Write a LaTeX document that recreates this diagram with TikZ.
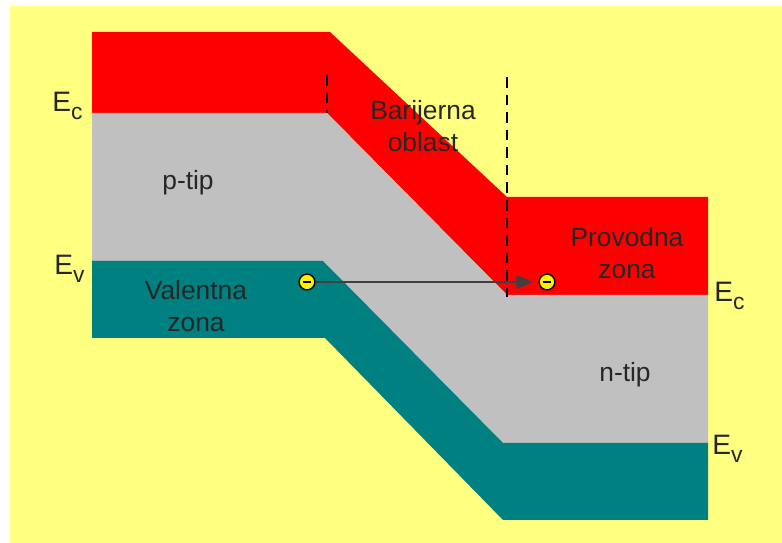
\documentclass[tikz,border=0pt]{standalone}
\usepackage{fontspec}
\setmainfont{Liberation Sans}
\usetikzlibrary{arrows}
\definecolor{bgyellow}{RGB}{255,255,128}
\definecolor{bandgray}{RGB}{192,192,192}
\definecolor{bandteal}{RGB}{0,128,128}
\newcommand{\lvl}[1]{E\raisebox{-0.5ex}{\fontsize{13}{13}\selectfont #1}}
\begin{document}
\begin{tikzpicture}[x=0.02cm, y=-0.02cm, >=triangle 45,
    txt/.style={font=\fontsize{15}{18}\selectfont, text=black!85, align=center},
    lvlname/.style={font=\fontsize{16}{16}\selectfont, text=black!85, anchor=west, inner sep=0pt},
    elec/.style={circle, draw=black, line width=0.8pt, fill=yellow, minimum size=9pt, inner sep=0pt}]
    \useasboundingbox (0,0) rectangle (782,543);
    \fill[white] (0,0) rectangle (782,543);
    \fill[bgyellow] (10,6) rectangle (782,543);
    % bands
    \fill[red] (92,32) -- (330,32) -- (507,197) -- (708,197) -- (708,295)
        -- (507,295) -- (327,113) -- (92,113) -- cycle;
    \fill[bandgray] (92,113) -- (327,113) -- (507,295) -- (708,295) -- (708,443)
        -- (503,443) -- (323,261) -- (92,261) -- cycle;
    \fill[bandteal] (92,261) -- (323,261) -- (503,443) -- (708,443) -- (708,520)
        -- (503,520) -- (325,338) -- (92,338) -- cycle;
    % barrier borders
    \draw[line width=1pt, dash pattern=on 6pt off 4pt] (327,75) -- (327,113);
    \draw[line width=1pt, dash pattern=on 6pt off 4pt] (507,77) -- (507,297);
    % labels
    \node[txt] (barr) at (423,126) {Barijerna\\oblast};
    \node[txt] (ptip) at (188,183) {p-tip};
    \node[txt] (val) at (196,306) {Valentna\\zona};
    \node[txt] (prov) at (627,253) {Provodna\\zona};
    \node[txt] (ntip) at (625,375) {n-tip};
    \node[lvlname] (ecl) at (52,106) {\lvl{c}};
    \node[lvlname] (evl) at (54,269) {\lvl{v}};
    \node[lvlname] (ecr) at (714,296) {\lvl{c}};
    \node[lvlname] (evr) at (712,449) {\lvl{v}};
    % electrons
    \node[elec] (e1) at (307,282) {};
    \node[elec] (e2) at (547,282) {};
    \draw[line width=1.2pt] ([xshift=-2.2pt]e1.center) -- ([xshift=2.2pt]e1.center);
    \draw[line width=1.2pt] ([xshift=-2.2pt]e2.center) -- ([xshift=2.2pt]e2.center);
    \draw[->, line width=1.2pt, black!75] (e1.east) -- ([xshift=-3pt]e2.west);
\end{tikzpicture}
\end{document}
